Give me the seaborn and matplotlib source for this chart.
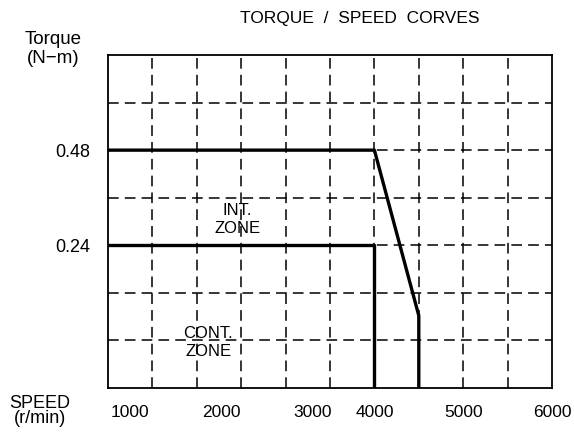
import pandas as pd
import matplotlib
matplotlib.use("Agg")
import matplotlib.pyplot as plt
import seaborn as sns

# datos
int_speed = [1000, 4000, 4500, 4500]
int_torque = [0.48, 0.48, 0.0625, -0.12]
cont_speed = [1000, 4000, 4000]
cont_torque = [0.24, 0.24, -0.12]

xtick_pos = [1250, 2280, 3300, 4000, 5000, 6000]
xtick_labels = ["1000", "2000", "3000", "4000", "5000", "6000"]
ytick_pos = [0.24, 0.48]
ytick_labels = ["0.24", "0.48"]

df = pd.concat([
    pd.DataFrame({"speed": int_speed, "torque": int_torque, "zone": "INT"}),
    pd.DataFrame({"speed": cont_speed, "torque": cont_torque, "zone": "CONT"}),
])

sns.set_style("white")
plt.rcParams['font.family'] = ['Liberation Sans', 'DejaVu Sans']
plt.rcParams['text.color'] = 'black'
plt.rcParams['xtick.color'] = 'black'
plt.rcParams['ytick.color'] = 'black'

fig = plt.figure(figsize=(5.74, 4.38), dpi=100)
ax = fig.add_axes([108/574, 1 - 388/438, 444/574, 333/438])

sns.lineplot(data=df, x="speed", y="torque", units="zone", estimator=None,
             sort=False, color="black", linewidth=2.4, ax=ax, legend=False)

ax.set_xlim(1000, 6000)
ax.set_ylim(-0.12, 0.72)

# rejilla discontinua
for gx in range(1500, 6000, 500):
    ax.axvline(gx, color="black", linewidth=1.1, linestyle=(0, (7, 4)), zorder=1)
for i in range(1, 7):
    gy = -0.12 + 0.12 * i
    ax.axhline(gy, color="black", linewidth=1.1, linestyle=(0, (7, 4)), zorder=1)

for s in ax.spines.values():
    s.set_color("black")
    s.set_linewidth(1.3)

ax.set_xticks(xtick_pos)
ax.set_xticklabels(xtick_labels, fontsize=12.5)
ax.set_yticks(ytick_pos)
ax.set_yticklabels(ytick_labels, fontsize=13)
ax.tick_params(axis="x", length=0, pad=12)
ax.tick_params(axis="y", length=0, pad=13)
ax.set_xlabel("")
ax.set_ylabel("")

ax.text(2460, 0.305, "INT.\nZONE", ha="center", va="center", fontsize=12, linespacing=1.25)
ax.text(2130, -0.005, "CONT.\nZONE", ha="center", va="center", fontsize=12, linespacing=1.25)

fig.text(360/574, 1 - 18/438, "TORQUE  /  SPEED  CORVES", ha="center", va="center", fontsize=12.5)
fig.text(53/574, 1 - 49/438, "Torque\n(N\u2212m)", ha="center", va="center", fontsize=13.5, linespacing=1.15)
fig.text(40/574, 1 - 411/438, "SPEED\n(r/min)", ha="center", va="center", fontsize=13, linespacing=0.9)

fig.savefig("out.png", dpi=100)
